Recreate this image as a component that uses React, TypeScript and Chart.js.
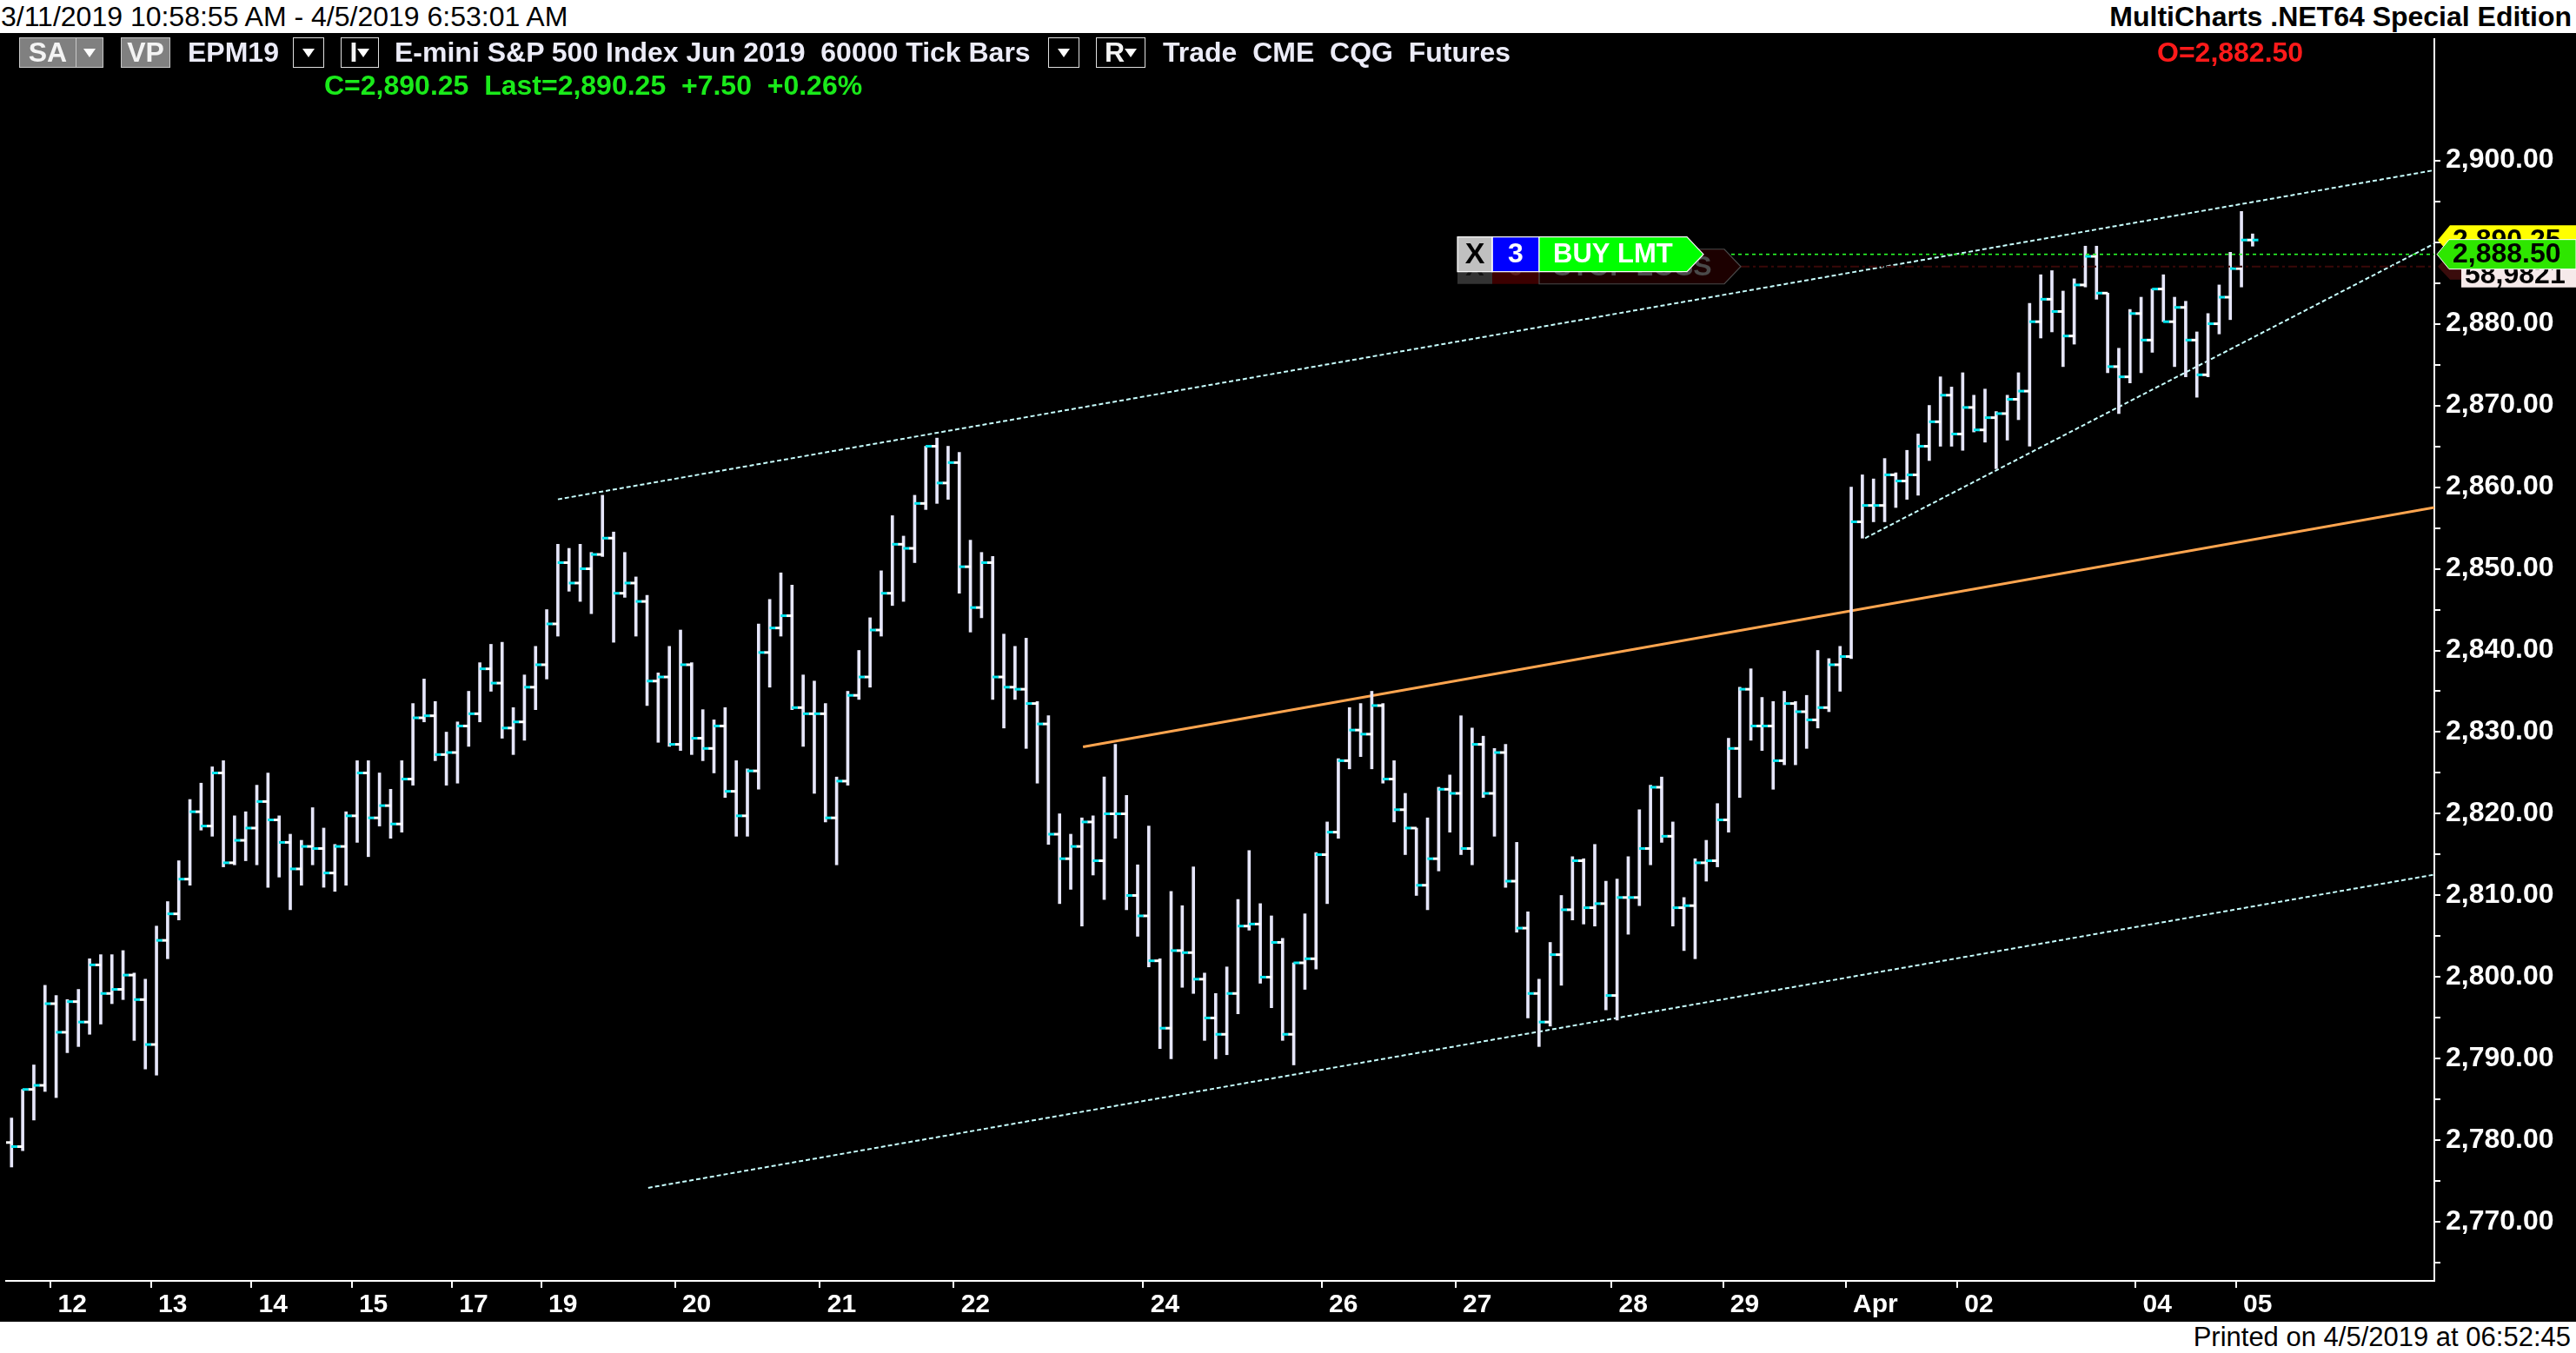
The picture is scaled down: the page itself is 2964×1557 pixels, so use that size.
import React, { useEffect, useRef } from 'react';
import { Chart, registerables } from 'chart.js';

Chart.register(...registerables);

// ---------- DATA ----------
const highs = [
  2782.75, 2786.25, 2789.25, 2799.00, 2797.75, 2797.25, 2798.50, 2802.25, 2802.75, 2802.75,
  2803.25, 2800.50, 2799.75, 2806.25, 2809.25, 2814.25, 2821.75, 2823.75, 2825.75, 2826.50,
  2819.75, 2820.25, 2823.50, 2825.00, 2819.75, 2817.50, 2816.75, 2820.75, 2818.25, 2816.25,
  2820.25, 2826.50, 2826.50, 2825.00, 2823.00, 2826.50, 2833.50, 2836.50, 2833.75, 2830.00,
  2831.25, 2835.00, 2838.50, 2840.75, 2841.00, 2833.00, 2837.00, 2840.50, 2845.00, 2853.00,
  2852.50, 2853.00, 2852.00, 2859.00, 2854.50, 2852.00, 2849.00, 2846.75, 2837.25, 2840.50,
  2842.50, 2838.50, 2832.75, 2831.50, 2833.00, 2826.50, 2825.50, 2843.25, 2846.25, 2849.50,
  2848.00, 2837.00, 2836.25, 2833.50, 2824.50, 2835.00, 2840.00, 2844.00, 2849.75, 2856.50,
  2854.00, 2859.00, 2865.00, 2866.00, 2865.00, 2864.25, 2853.50, 2852.00, 2851.50, 2842.00,
  2840.50, 2841.50, 2833.75, 2832.00, 2820.00, 2817.50, 2819.50, 2819.75, 2824.50, 2828.50,
  2822.25, 2813.75, 2818.50, 2802.25, 2810.50, 2808.75, 2813.50, 2800.50, 2798.00, 2801.25,
  2809.50, 2815.50, 2809.00, 2807.50, 2804.75, 2801.75, 2807.75, 2815.25, 2819.00, 2826.75,
  2833.00, 2833.50, 2835.00, 2833.50, 2826.50, 2822.50, 2818.25, 2819.50, 2823.25, 2824.75,
  2832.00, 2830.50, 2829.50, 2828.00, 2828.50, 2816.50, 2808.00, 2799.75, 2804.25, 2810.00,
  2814.75, 2814.50, 2816.25, 2811.75, 2812.00, 2814.75, 2820.50, 2823.50, 2824.50, 2819.00,
  2809.75, 2814.50, 2816.75, 2821.25, 2829.25, 2835.50, 2837.75, 2834.25, 2833.75, 2835.00,
  2833.75, 2834.50, 2840.00, 2839.00, 2840.50, 2860.00, 2861.50, 2861.00, 2863.50, 2861.75,
  2864.50, 2866.50, 2870.00, 2873.50, 2872.25, 2874.00, 2871.25, 2872.00, 2869.25, 2871.25,
  2874.00, 2882.50, 2886.00, 2886.50, 2884.00, 2885.50, 2889.50, 2889.50, 2883.75, 2877.00,
  2881.75, 2883.25, 2884.25, 2886.00, 2883.25, 2882.75, 2879.00, 2881.25, 2884.75, 2888.75,
  2893.75, 2891.00,
];

const lows = [
  2776.75, 2778.75, 2782.50, 2786.00, 2785.25, 2790.75, 2791.50, 2793.00, 2794.25, 2796.75,
  2797.25, 2792.25, 2788.75, 2788.00, 2802.25, 2807.00, 2811.25, 2818.00, 2817.25, 2813.50,
  2813.75, 2814.25, 2813.75, 2811.00, 2812.25, 2808.25, 2811.25, 2813.75, 2811.00, 2810.50,
  2811.25, 2816.50, 2814.75, 2818.50, 2817.00, 2817.75, 2823.50, 2831.25, 2826.50, 2823.50,
  2823.75, 2828.25, 2831.25, 2835.00, 2829.25, 2827.25, 2829.00, 2832.75, 2836.50, 2841.75,
  2847.25, 2846.00, 2844.50, 2851.50, 2841.00, 2846.50, 2841.75, 2833.25, 2828.75, 2828.25,
  2827.75, 2827.25, 2826.50, 2825.00, 2822.00, 2817.25, 2817.25, 2823.00, 2835.50, 2841.75,
  2832.75, 2828.25, 2822.50, 2819.00, 2813.75, 2823.50, 2834.00, 2835.50, 2841.75, 2845.50,
  2846.00, 2850.75, 2857.25, 2858.00, 2858.50, 2847.00, 2842.25, 2844.00, 2834.00, 2830.50,
  2834.00, 2828.00, 2823.75, 2816.25, 2809.00, 2810.75, 2806.25, 2812.50, 2809.50, 2817.00,
  2808.25, 2805.00, 2801.25, 2791.25, 2790.00, 2798.75, 2798.00, 2792.25, 2790.00, 2790.50,
  2795.50, 2805.75, 2799.25, 2796.25, 2792.25, 2789.25, 2798.50, 2801.00, 2809.00, 2817.00,
  2825.50, 2827.00, 2825.50, 2823.75, 2819.00, 2815.00, 2810.00, 2808.25, 2813.00, 2817.75,
  2815.00, 2813.75, 2822.00, 2817.25, 2811.00, 2805.50, 2795.00, 2791.50, 2794.00, 2799.00,
  2807.00, 2806.50, 2806.25, 2796.00, 2794.75, 2805.25, 2808.75, 2813.75, 2816.50, 2806.25,
  2803.25, 2802.25, 2811.75, 2813.50, 2817.75, 2822.00, 2829.00, 2827.75, 2823.00, 2826.00,
  2826.00, 2828.00, 2830.50, 2832.50, 2835.00, 2839.00, 2853.75, 2855.75, 2855.75, 2857.50,
  2858.50, 2859.00, 2863.25, 2865.00, 2865.00, 2864.50, 2866.75, 2865.50, 2862.25, 2865.75,
  2868.25, 2865.00, 2878.25, 2879.00, 2874.75, 2877.50, 2884.50, 2883.00, 2874.00, 2869.00,
  2872.75, 2874.00, 2876.50, 2880.25, 2874.75, 2873.50, 2871.00, 2873.50, 2878.75, 2880.50,
  2884.50, 2889.50,
];

const opens = [
  2779.75, 2779.25, 2786.25, 2786.75, 2796.75, 2793.25, 2797.00, 2794.50, 2801.50, 2798.00,
  2798.50, 2800.25, 2797.25, 2791.75, 2804.50, 2807.75, 2812.00, 2820.25, 2818.50, 2825.00,
  2814.00, 2816.75, 2818.25, 2821.50, 2819.25, 2816.50, 2813.25, 2816.00, 2815.75, 2812.75,
  2816.00, 2819.75, 2825.00, 2819.50, 2821.00, 2818.75, 2824.25, 2831.75, 2832.00, 2827.25,
  2827.50, 2830.75, 2832.25, 2837.75, 2836.00, 2830.50, 2831.25, 2835.50, 2838.25, 2843.25,
  2850.75, 2848.25, 2850.00, 2851.75, 2853.75, 2847.00, 2848.25, 2846.00, 2836.25, 2836.75,
  2828.50, 2838.25, 2829.25, 2828.00, 2830.75, 2822.75, 2819.75, 2825.25, 2839.75, 2842.75,
  2844.25, 2833.00, 2832.25, 2832.25, 2819.50, 2824.00, 2834.50, 2836.75, 2842.50, 2847.00,
  2853.00, 2852.50, 2858.00, 2865.00, 2860.50, 2863.00, 2850.25, 2845.25, 2850.75, 2836.75,
  2835.50, 2835.25, 2833.50, 2831.00, 2817.50, 2814.50, 2816.00, 2819.00, 2814.25, 2820.00,
  2820.00, 2810.00, 2807.50, 2802.00, 2793.75, 2803.25, 2803.00, 2799.75, 2795.00, 2793.00,
  2798.00, 2806.25, 2806.50, 2800.00, 2804.25, 2793.00, 2801.75, 2802.25, 2815.00, 2817.75,
  2826.50, 2830.25, 2829.75, 2833.25, 2824.25, 2820.50, 2818.25, 2811.25, 2814.50, 2823.00,
  2822.50, 2815.75, 2828.50, 2822.50, 2827.50, 2811.75, 2806.00, 2798.00, 2794.50, 2802.75,
  2808.25, 2814.25, 2808.50, 2809.00, 2797.75, 2809.75, 2809.75, 2815.75, 2823.25, 2817.25,
  2808.50, 2808.75, 2814.00, 2814.25, 2819.25, 2828.00, 2835.25, 2830.75, 2830.75, 2826.50,
  2833.50, 2832.50, 2831.50, 2833.00, 2838.25, 2839.25, 2855.75, 2857.75, 2857.75, 2861.50,
  2860.75, 2861.50, 2865.00, 2868.00, 2871.25, 2866.50, 2869.75, 2867.00, 2868.50, 2869.00,
  2870.75, 2871.75, 2880.25, 2883.00, 2881.50, 2878.50, 2884.75, 2888.25, 2883.75, 2874.75,
  2873.50, 2881.25, 2878.00, 2884.25, 2880.25, 2882.00, 2878.00, 2873.75, 2880.00, 2883.25,
  2886.75, 2890.25,
];

const closes = [
  2779.25, 2786.25, 2786.75, 2796.75, 2793.25, 2797.00, 2794.50, 2801.50, 2798.00, 2798.50,
  2800.25, 2797.25, 2791.75, 2804.50, 2807.75, 2812.00, 2820.25, 2818.50, 2825.00, 2814.00,
  2816.75, 2818.25, 2821.50, 2819.25, 2816.50, 2813.25, 2816.00, 2815.75, 2812.75, 2816.00,
  2819.75, 2825.00, 2819.50, 2821.00, 2818.75, 2824.25, 2831.75, 2832.00, 2827.25, 2827.50,
  2830.75, 2832.25, 2837.75, 2836.00, 2830.50, 2831.25, 2835.50, 2838.25, 2843.25, 2850.75,
  2848.25, 2850.00, 2851.75, 2853.75, 2847.00, 2848.25, 2846.00, 2836.25, 2836.75, 2828.50,
  2838.25, 2829.25, 2828.00, 2830.75, 2822.75, 2819.75, 2825.25, 2839.75, 2842.75, 2844.25,
  2833.00, 2832.25, 2832.25, 2819.50, 2824.00, 2834.50, 2836.75, 2842.50, 2847.00, 2853.00,
  2852.50, 2858.00, 2865.00, 2860.50, 2863.00, 2850.25, 2845.25, 2850.75, 2836.75, 2835.50,
  2835.25, 2833.50, 2831.00, 2817.50, 2814.50, 2816.00, 2819.00, 2814.25, 2820.00, 2820.00,
  2810.00, 2807.50, 2802.00, 2793.75, 2803.25, 2803.00, 2799.75, 2795.00, 2793.00, 2798.00,
  2806.25, 2806.50, 2800.00, 2804.25, 2793.00, 2801.75, 2802.25, 2815.00, 2817.75, 2826.50,
  2830.25, 2829.75, 2833.25, 2824.25, 2820.50, 2818.25, 2811.25, 2814.50, 2823.00, 2822.50,
  2815.75, 2828.50, 2822.50, 2827.50, 2811.75, 2806.00, 2798.00, 2794.50, 2802.75, 2808.25,
  2814.25, 2808.50, 2809.00, 2797.75, 2809.75, 2809.75, 2815.75, 2823.25, 2817.25, 2808.50,
  2808.75, 2814.00, 2814.25, 2819.25, 2828.00, 2835.25, 2830.75, 2830.75, 2826.50, 2833.50,
  2832.50, 2831.50, 2833.00, 2838.25, 2839.25, 2855.75, 2857.75, 2857.75, 2861.50, 2860.75,
  2861.50, 2865.00, 2868.00, 2871.25, 2866.50, 2869.75, 2867.00, 2868.50, 2869.00, 2870.75,
  2871.75, 2880.25, 2883.00, 2881.50, 2878.50, 2884.75, 2888.25, 2883.75, 2874.75, 2873.50,
  2881.25, 2878.00, 2884.25, 2880.25, 2882.00, 2878.00, 2873.75, 2880.00, 2883.25, 2886.75,
  2890.25, 2890.25,
];

// session starts (bar index) and their labels on the time axis
const dayStarts = [4, 13, 22, 31, 40, 48, 60, 73, 85, 102, 118, 130, 144, 154, 165, 175, 191, 200];
const dayLabels = ['12', '13', '14', '15', '17', '19', '20', '21', '22', '24', '26', '27', '28', '29', 'Apr', '02', '04', '05'];

// price-axis ticks
const priceTicks = [
  2765, 2770, 2775, 2780, 2785, 2790, 2795, 2800, 2805, 2810, 2815, 2820, 2825, 2830,
  2835, 2840, 2845, 2850, 2855, 2860, 2865, 2870, 2875, 2880, 2885, 2890, 2895, 2900,
];

// drawn trend lines: [barIndex, price] end points
const upperChannel = [[49.0, 2858.5], [217.3, 2898.8]];
const lowerChannel = [[57.1, 2774.2], [217.3, 2812.55]];
const orangeLine = [[96.1, 2828.2], [217.3, 2857.5]];
const wedgeLine = [[166.25, 2853.75], [217.3, 2889.8]];

const lastPrice = 2890.25;
const orderPrice = 2888.5;
const stopPrice = 2887.0;

const FONT = "'Liberation Sans', Arial, Helvetica, sans-serif";

const fmt = (v: number) =>
  v.toLocaleString('en-US', { minimumFractionDigits: 2, maximumFractionDigits: 2 });

function tagLeft(ctx: any, xTip: number, xEnd: number, yc: number, h: number, fill: string, stroke?: string) {
  ctx.beginPath();
  ctx.moveTo(xTip, yc);
  ctx.lineTo(xTip + 14, yc - h);
  ctx.lineTo(xEnd, yc - h);
  ctx.lineTo(xEnd, yc + h);
  ctx.lineTo(xTip + 14, yc + h);
  ctx.closePath();
  ctx.fillStyle = fill;
  ctx.fill();
  if (stroke) {
    ctx.strokeStyle = stroke;
    ctx.lineWidth = 1;
    ctx.stroke();
  }
}

function arrowRight(ctx: any, x0: number, x1: number, yc: number, h: number, fill: string, stroke: string) {
  ctx.beginPath();
  ctx.moveTo(x0, yc - h);
  ctx.lineTo(x1, yc - h);
  ctx.lineTo(x1 + 19, yc);
  ctx.lineTo(x1, yc + h);
  ctx.lineTo(x0, yc + h);
  ctx.closePath();
  ctx.fillStyle = fill;
  ctx.fill();
  ctx.strokeStyle = stroke;
  ctx.lineWidth = 1.2;
  ctx.stroke();
}

const overlayPlugin = {
  id: 'mcOverlay',
  afterDatasetsDraw(chart: any) {
    const ctx = chart.ctx;
    const y = chart.scales.y;
    const area = chart.chartArea;
    const yBuy = y.getPixelForValue(orderPrice);
    const yStop = y.getPixelForValue(stopPrice);
    ctx.save();
    // order lines
    ctx.setLineDash([10, 4, 3, 4]);
    ctx.strokeStyle = '#3a0808';
    ctx.lineWidth = 2;
    ctx.beginPath();
    ctx.moveTo(2003, yStop);
    ctx.lineTo(area.right, yStop);
    ctx.stroke();
    ctx.setLineDash([4, 4]);
    ctx.strokeStyle = '#2bff2b';
    ctx.lineWidth = 1.6;
    ctx.beginPath();
    ctx.moveTo(1960, yBuy);
    ctx.lineTo(area.right, yBuy);
    ctx.stroke();
    ctx.setLineDash([]);

    // stop-loss (shadow) order box
    ctx.fillStyle = '#333333';
    ctx.fillRect(1677, yStop - 20, 40, 40);
    ctx.fillStyle = '#3c0000';
    ctx.fillRect(1717, yStop - 20, 54, 40);
    arrowRight(ctx, 1771, 1984, yStop, 20, '#1c0000', '#4a4a4a');
    ctx.font = `bold 32px ${FONT}`;
    ctx.textBaseline = 'middle';
    ctx.textAlign = 'left';
    ctx.fillStyle = '#4a4a4a';
    ctx.fillText('STOP LOSS', 1787, yStop + 1);
    ctx.fillStyle = '#111';
    ctx.textAlign = 'center';
    ctx.fillText('X', 1697, yStop + 1);
    ctx.fillStyle = '#5a1a1a';
    ctx.fillText('0', 1744, yStop + 1);

    // buy limit order box
    ctx.fillStyle = '#c0c0c0';
    ctx.fillRect(1677, yBuy - 20, 40, 40);
    ctx.fillStyle = '#0000ff';
    ctx.fillRect(1717, yBuy - 20, 54, 40);
    ctx.strokeStyle = '#ffffff';
    ctx.lineWidth = 1.2;
    ctx.strokeRect(1677, yBuy - 20, 40, 40);
    ctx.strokeRect(1717, yBuy - 20, 54, 40);
    arrowRight(ctx, 1771, 1941, yBuy, 20, '#00ff00', '#ffffff');
    ctx.fillStyle = '#000000';
    ctx.font = `bold 34px ${FONT}`;
    ctx.fillText('X', 1697, yBuy + 1);
    ctx.fillStyle = '#ffffff';
    ctx.font = `bold 32px ${FONT}`;
    ctx.fillText('3', 1744, yBuy + 1);
    ctx.textAlign = 'left';
    ctx.font = `bold 31px ${FONT}`;
    ctx.fillText('BUY LMT', 1787, yBuy + 1);
    ctx.restore();
  },
  afterDraw(chart: any) {
    const ctx = chart.ctx;
    const y = chart.scales.y;
    const xTip = chart.chartArea.right + 4;
    const xEnd = chart.width;
    const yLast = y.getPixelForValue(lastPrice);
    const yBuy = y.getPixelForValue(orderPrice);
    const yStop = y.getPixelForValue(stopPrice);
    ctx.save();
    ctx.textBaseline = 'middle';
    ctx.textAlign = 'left';
    ctx.font = `bold 32px ${FONT}`;
    // stop marker
    tagLeft(ctx, xTip, xEnd, yStop, 15, '#3a0c0c');
    ctx.fillStyle = '#f6eaea';
    ctx.fillRect(2832, yStop - 6, xEnd - 2832, 30);
    ctx.fillStyle = '#000000';
    ctx.fillText('58,9821', 2836, yStop + 10);
    // last price
    tagLeft(ctx, xTip, xEnd, yLast, 17, '#ffff00');
    ctx.fillStyle = '#000000';
    ctx.fillText(fmt(lastPrice), 2822, yLast + 1);
    // order price
    tagLeft(ctx, xTip - 1, xEnd, yBuy, 17, '#2ee600', '#ffffff');
    ctx.fillStyle = '#000000';
    ctx.fillText(fmt(orderPrice), 2822, yBuy + 1);
    ctx.restore();
  },
};

const toPts = (arr: number[][]) => arr.map((p) => ({ x: p[0], y: p[1] }));

export default function App() {
  const canvasRef = useRef<HTMLCanvasElement | null>(null);

  useEffect(() => {
    const canvas = canvasRef.current;
    if (!canvas) return;
    const dotted = {
      type: 'line',
      borderColor: '#c8ffff',
      borderWidth: 2,
      borderDash: [5, 3],
      pointRadius: 0,
      fill: false,
      order: 5,
    };
    const chart = new Chart(canvas, {
      type: 'bar',
      data: {
        datasets: [
          { ...dotted, data: toPts(upperChannel) },
          { ...dotted, data: toPts(lowerChannel) },
          { ...dotted, data: toPts(wedgeLine) },
          {
            type: 'line',
            data: toPts(orangeLine),
            borderColor: '#ffa54f',
            borderWidth: 3,
            pointRadius: 0,
            fill: false,
            order: 5,
          },
          {
            type: 'bar',
            data: highs.map((h, i) => ({ x: i, y: [lows[i], h] })),
            backgroundColor: '#e6e6fa',
            borderWidth: 0,
            barThickness: 3,
            order: 3,
          },
          {
            type: 'scatter',
            data: opens.map((o, i) => ({ x: i - 0.25, y: o })),
            pointStyle: 'line',
            pointRadius: 3.4,
            pointBorderWidth: 3,
            pointBorderColor: '#ffffff',
            borderColor: '#ffffff',
            order: 2,
          },
          {
            type: 'scatter',
            data: closes.map((c, i) => ({ x: i + 0.25, y: c })),
            pointStyle: 'line',
            pointRadius: 3.4,
            pointBorderWidth: 3,
            pointBorderColor: '#00e5ee',
            borderColor: '#00e5ee',
            order: 1,
          },
        ] as any,
      },
      options: {
        animation: false,
        responsive: false,
        events: [],
        layout: { padding: 0 },
        plugins: { legend: { display: false }, tooltip: { enabled: false } },
        scales: {
          x: {
            type: 'linear',
            min: -0.49,
            max: 217.3,
            offset: false,
            grid: {
              offset: false,
              drawOnChartArea: false,
              drawTicks: true,
              tickLength: 8,
              color: '#ffffff',
              lineWidth: 2,
            },
            border: { display: true, color: '#ffffff', width: 2 },
            ticks: {
              align: 'start',
              color: '#ffffff',
              font: { family: FONT, size: 30, weight: 'bold' },
              padding: 2,
              maxRotation: 0,
              minRotation: 0,
              autoSkip: false,
              callback: (_v: any, i: number) => ' ' + dayLabels[i],
            },
            afterBuildTicks: (s: any) => {
              s.ticks = dayStarts.map((d) => ({ value: d - 0.5 }));
            },
            afterFit: (s: any) => {
              s.height = 47;
              s.paddingLeft = 0;
              s.paddingRight = 0;
            },
          },
          y: {
            type: 'linear',
            position: 'right',
            min: 2762.81,
            max: 2914.85,
            beginAtZero: false,
            grid: {
              drawOnChartArea: false,
              drawTicks: true,
              tickLength: 7,
              color: '#ffffff',
              lineWidth: 2,
            },
            border: { display: true, color: '#ffffff', width: 2 },
            ticks: {
              color: '#ffffff',
              font: { family: FONT, size: 32, weight: 'bold' },
              padding: 6,
              autoSkip: false,
              callback: (v: any) => (Math.round(v) % 10 === 0 ? fmt(Number(v)) : ''),
            },
            afterBuildTicks: (s: any) => {
              s.ticks = priceTicks.map((p) => ({ value: p }));
            },
            afterFit: (s: any) => {
              s.width = 163;
              s.paddingTop = 0;
              s.paddingBottom = 0;
            },
          },
        },
      } as any,
      plugins: [overlayPlugin],
    } as any);
    return () => chart.destroy();
  }, []);

  const txt = (extra: any) => ({
    position: 'absolute' as const,
    fontFamily: FONT,
    fontSize: 32,
    fontWeight: 'bold' as const,
    lineHeight: '35px',
    whiteSpace: 'pre' as const,
    color: '#ececf8',
    ...extra,
  });
  const tri = (color: string) => (
    <span
      style={{
        display: 'inline-block',
        width: 0,
        height: 0,
        borderLeft: '7px solid transparent',
        borderRight: '7px solid transparent',
        borderTop: `10px solid ${color}`,
      }}
    />
  );
  const box = (left: number, width: number, bg: string, border: string, content: any) => (
    <div
      style={{
        position: 'absolute',
        left,
        top: 43,
        width,
        height: 35,
        boxSizing: 'border-box',
        background: bg,
        border: `1px solid ${border}`,
        display: 'flex',
        alignItems: 'center',
        justifyContent: 'center',
        color: '#f4f4f4',
        fontFamily: FONT,
        fontWeight: 'bold',
        fontSize: 32,
      }}
    >
      {content}
    </div>
  );

  return (
    <div
      style={{
        position: 'fixed',
        left: 0,
        top: 0,
        width: 2964,
        height: 1557,
        background: '#000',
        overflow: 'hidden',
        fontFamily: FONT,
      }}
    >
      <div style={{ position: 'absolute', left: 0, top: 0, width: 2964, height: 38, background: '#fff' }}>
        <span style={{ position: 'absolute', left: 1, top: 0, lineHeight: '38px', fontSize: 32, color: '#000', whiteSpace: 'pre' }}>
          3/11/2019 10:58:55 AM - 4/5/2019 6:53:01 AM
        </span>
        <span
          style={{
            position: 'absolute',
            right: 5,
            top: 0,
            lineHeight: '38px',
            fontSize: 32,
            fontWeight: 'bold',
            color: '#000',
            whiteSpace: 'pre',
          }}
        >
          MultiCharts .NET64 Special Edition
        </span>
      </div>
      <canvas ref={canvasRef} width={2964} height={1483} style={{ position: 'absolute', left: 0, top: 38, display: 'block' }} />

      {box(22, 66, '#808080', '#c8c8c8', 'SA')}
      {box(87, 32, '#808080', '#c8c8c8', tri('#ffffff'))}
      {box(139, 57, '#808080', '#c8c8c8', 'VP')}
      <span style={txt({ left: 216, top: 43 })}>EPM19</span>
      {box(337, 36, '#000', '#e0e0e0', tri('#ffffff'))}
      {box(392, 44, '#000', '#e0e0e0', <span style={{ display: 'flex', alignItems: 'center' }}>I{tri('#ffffff')}</span>)}
      <span style={txt({ left: 454, top: 43 })}>E-mini S&P 500 Index Jun 2019  60000 Tick Bars</span>
      {box(1206, 36, '#000', '#e0e0e0', tri('#ffffff'))}
      {box(1261, 57, '#000', '#e0e0e0', <span style={{ display: 'flex', alignItems: 'center' }}>R{tri('#ffffff')}</span>)}
      <span style={txt({ left: 1338, top: 43 })}>Trade  CME  CQG  Futures</span>
      <span style={txt({ left: 2482, top: 43, color: '#ff1a1a' })}>O=2,882.50</span>
      <span style={txt({ left: 373, top: 81, color: '#1aea1a' })}>C=2,890.25  Last=2,890.25  +7.50  +0.26%</span>

      <div style={{ position: 'absolute', left: 0, top: 1521, width: 2964, height: 36, background: '#fff' }}>
        <span style={{ position: 'absolute', right: 6, top: 0, lineHeight: '36px', fontSize: 31, color: '#000', whiteSpace: 'pre' }}>
          Printed on 4/5/2019 at 06:52:45
        </span>
      </div>
    </div>
  );
}
